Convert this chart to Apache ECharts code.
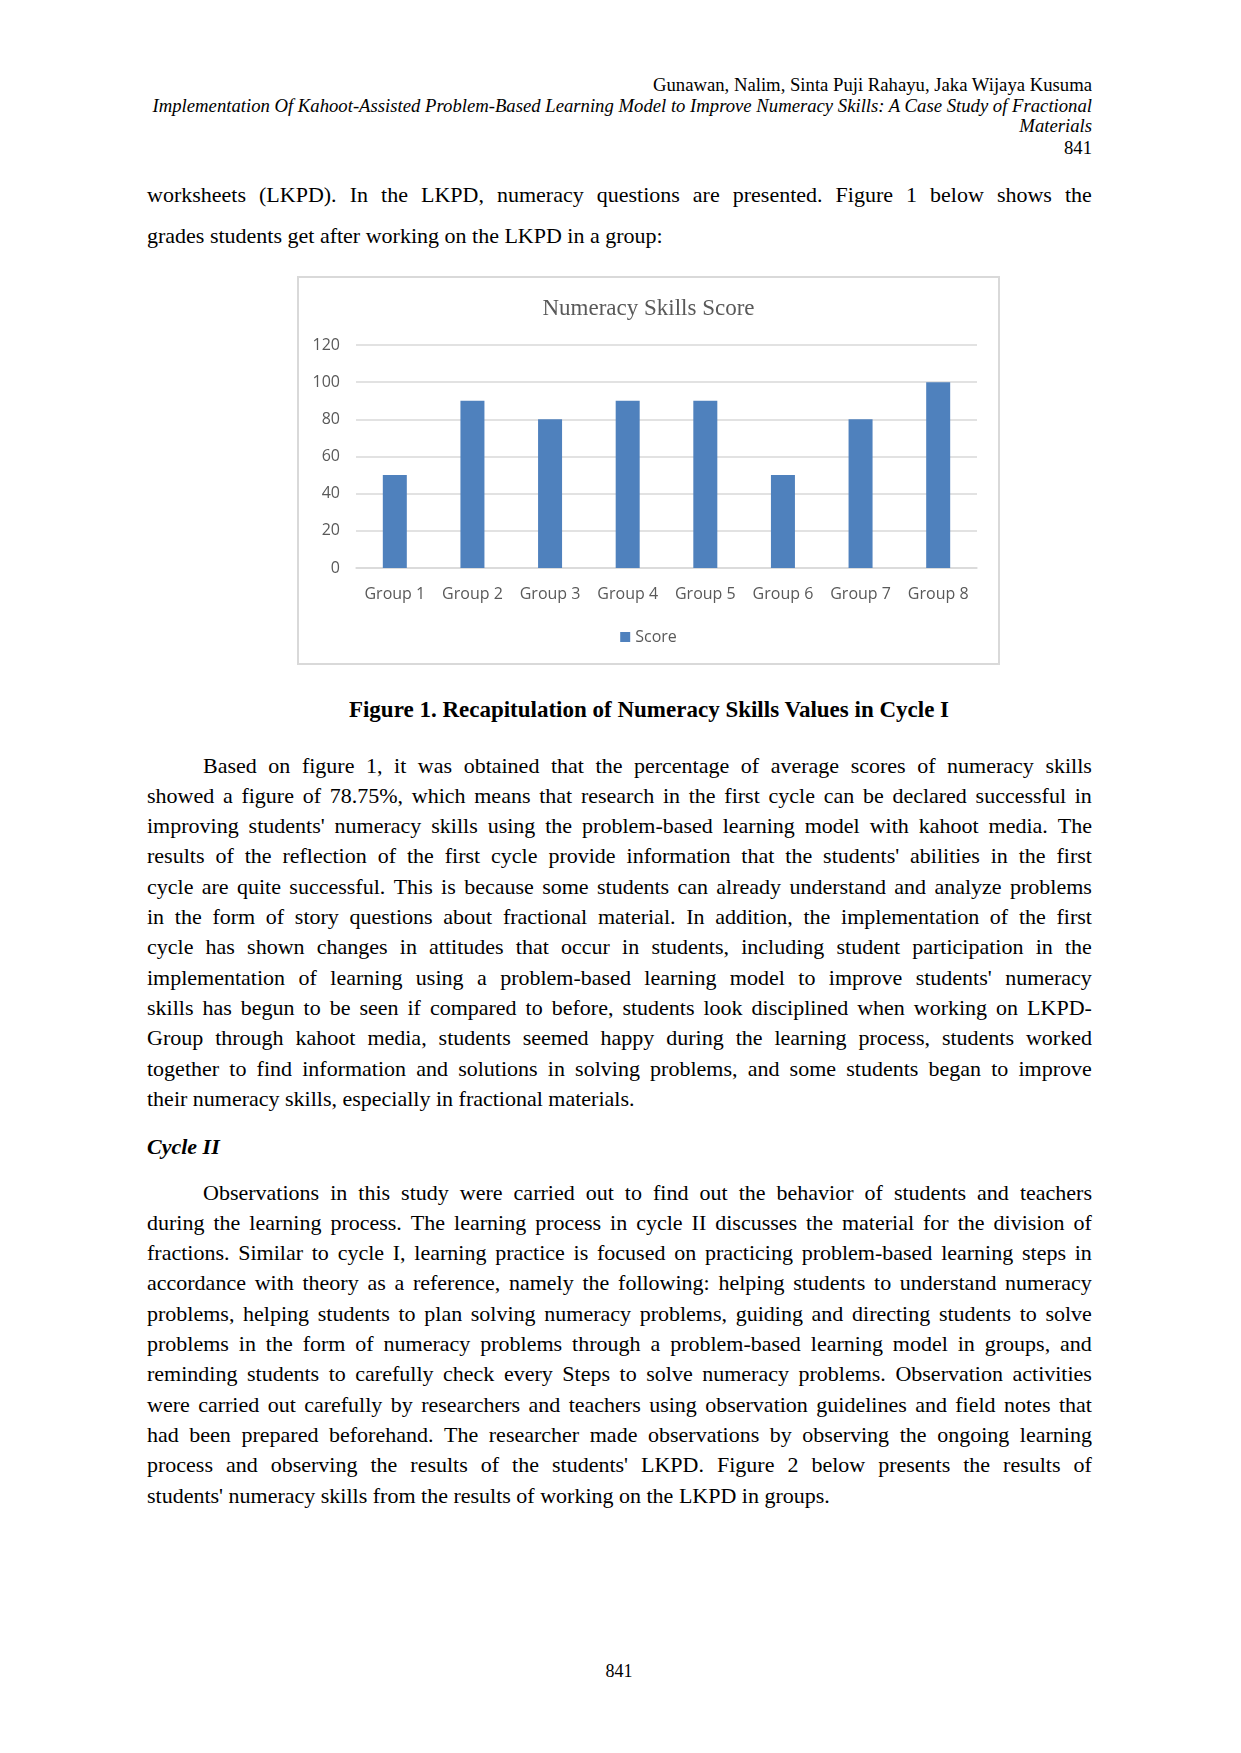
<!DOCTYPE html>
<html>
<head>
<meta charset="utf-8">
<title>Numeracy Skills Score</title>
<script src="https://cdn.jsdelivr.net/npm/echarts@6/dist/echarts.min.js"></script>
<style>
  html, body { margin: 0; padding: 0; background: #fff; }
  #page { position: relative; width: 1241px; height: 1753px; overflow: hidden;
          font-family: "Liberation Serif", "Times New Roman", serif; color: #000; }
  .ln { position: absolute; white-space: nowrap; }
  .just { display: flex; justify-content: space-between; }
  #chartBox { position: absolute; left: 297px; top: 276px; width: 703px; height: 389px;
              box-sizing: border-box; border: 2px solid #d9d9d9; background: #fff; }
  #chart { width: 699px; height: 385px; }
</style>
</head>
<body>
<div id="page">
  <div id="chartBox"><div id="chart"></div></div>
</div>
<script>
// chart data
const groups = ['Group 1', 'Group 2', 'Group 3', 'Group 4', 'Group 5', 'Group 6', 'Group 7', 'Group 8'];
const scores = [50, 90, 80, 90, 90, 50, 80, 100];
const seriesName = 'Score';
const chartTitle = 'Numeracy Skills Score';

// page text, one entry per printed line
const L = 147, R = 1092;
const hfs = 18.7;
const lines = [
  { t: 'Gunawan, Nalim, Sinta Puji Rahayu, Jaka Wijaya Kusuma', b: 92, fs: hfs, align: 'right' },
  { t: 'Implementation Of Kahoot-Assisted Problem-Based Learning Model to Improve Numeracy Skills: A Case Study of Fractional', b: 113, fs: hfs, it: true, align: 'right' },
  { t: 'Materials', b: 133, fs: hfs, it: true, align: 'right' },
  { t: '841', b: 155, fs: hfs, align: 'right' },
  { t: 'worksheets (LKPD). In the LKPD, numeracy questions are presented. Figure 1 below shows the', b: 202, j: true },
  { t: 'grades students get after working on the LKPD in a group:', b: 243 },
  { t: 'Figure 1. Recapitulation of Numeracy Skills Values in Cycle I', b: 717, fs: 23, bold: true, align: 'center', cx: 649 }
];
const para2 = [
  'Based on figure 1, it was obtained that the percentage of average scores of numeracy skills',
  'showed a figure of 78.75%, which means that research in the first cycle can be declared successful in',
  "improving students' numeracy skills using the problem-based learning model with kahoot media. The",
  "results of the reflection of the first cycle provide information that the students' abilities in the first",
  'cycle are quite successful. This is because some students can already understand and analyze problems',
  'in the form of story questions about fractional material. In addition, the implementation of the first',
  'cycle has shown changes in attitudes that occur in students, including student participation in the',
  "implementation of learning using a problem-based learning model to improve students' numeracy",
  'skills has begun to be seen if compared to before, students look disciplined when working on LKPD-',
  'Group through kahoot media, students seemed happy during the learning process, students worked',
  'together to find information and solutions in solving problems, and some students began to improve',
  'their numeracy skills, especially in fractional materials.'
];
const para3 = [
  'Observations in this study were carried out to find out the behavior of students and teachers',
  'during the learning process. The learning process in cycle II discusses the material for the division of',
  'fractions. Similar to cycle I, learning practice is focused on practicing problem-based learning steps in',
  'accordance with theory as a reference, namely the following: helping students to understand numeracy',
  'problems, helping students to plan solving numeracy problems, guiding and directing students to solve',
  'problems in the form of numeracy problems through a problem-based learning model in groups, and',
  'reminding students to carefully check every Steps to solve numeracy problems. Observation activities',
  'were carried out carefully by researchers and teachers using observation guidelines and field notes that',
  'had been prepared beforehand. The researcher made observations by observing the ongoing learning',
  "process and observing the results of the students' LKPD. Figure 2 below presents the results of",
  "students' numeracy skills from the results of working on the LKPD in groups."
];
const indent = 56, step = 30.3;
para2.forEach((t, i) => lines.push({ t, b: 773 + i * step, j: i < para2.length - 1, x: i ? L : L + indent }));
lines.push({ t: 'Cycle II', b: 1154, bold: true, it: true });
para3.forEach((t, i) => lines.push({ t, b: 1200 + i * step, j: i < para3.length - 1, x: i ? L : L + indent }));
lines.push({ t: '841', b: 1677, fs: 18, align: 'center', cx: 619 });

const page = document.getElementById('page');
lines.forEach(d => {
  const fs = d.fs || 22;
  const el = document.createElement('div');
  el.className = 'ln';
  el.style.fontSize = fs + 'px';
  el.style.lineHeight = fs + 'px';
  el.style.height = fs + 'px';
  el.style.top = (d.b - 0.8375 * fs) + 'px';
  if (d.it) el.style.fontStyle = 'italic';
  if (d.bold) el.style.fontWeight = 'bold';
  const x0 = d.x || L;
  if (d.j) {
    el.classList.add('just');
    el.style.left = x0 + 'px';
    el.style.width = (R - x0) + 'px';
    d.t.split(' ').forEach(w => {
      const s = document.createElement('span');
      s.textContent = w;
      el.appendChild(s);
    });
    page.appendChild(el);
    // squeeze a line slightly if the words alone overflow it
    let sum = 0;
    el.childNodes.forEach(s => { sum += s.getBoundingClientRect().width; });
    const need = sum + (el.childNodes.length - 1) * fs * 0.2;
    if (need > R - x0) {
      el.style.width = need + 'px';
      el.style.transformOrigin = 'left top';
      el.style.transform = 'scaleX(' + ((R - x0) / need) + ')';
    }
  } else {
    el.textContent = d.t;
    page.appendChild(el);
    if (d.align === 'right') el.style.left = (R - el.getBoundingClientRect().width) + 'px';
    else if (d.align === 'center') el.style.left = (d.cx - el.getBoundingClientRect().width / 2) + 'px';
    else el.style.left = x0 + 'px';
  }
});

const chart = echarts.init(document.getElementById('chart'), null, { renderer: 'canvas' });
const gray = '#595959';
const lineGray = '#d9d9d9';
chart.setOption({
  animation: false,
  title: {
    text: chartTitle,
    left: 'center',
    top: 14,
    textStyle: { fontFamily: 'Liberation Serif', fontSize: 23, fontWeight: 'normal', color: gray }
  },
  legend: {
    data: [seriesName],
    left: 'center',
    top: 346,
    icon: 'rect',
    itemWidth: 10,
    itemHeight: 10,
    textStyle: { fontFamily: 'Open Sans', fontSize: 16, color: gray }
  },
  grid: { left: 57, right: 21, top: 67, bottom: 95, containLabel: false },
  xAxis: {
    type: 'category',
    data: groups,
    axisLine: { lineStyle: { color: lineGray, width: 1.5 } },
    axisTick: { show: false },
    axisLabel: { margin: 18, fontFamily: 'Open Sans', fontSize: 16, color: gray, interval: 0 }
  },
  yAxis: {
    type: 'value',
    min: 0,
    max: 120,
    interval: 20,
    axisLine: { show: false },
    axisTick: { show: false },
    axisLabel: { margin: 16, fontFamily: 'Open Sans', fontSize: 16, color: gray },
    splitLine: { lineStyle: { color: lineGray, width: 1.5 } }
  },
  series: [{
    name: seriesName,
    type: 'bar',
    data: scores,
    barWidth: 24,
    itemStyle: { color: '#4f81bd' }
  }]
});
</script>
</body>
</html>
